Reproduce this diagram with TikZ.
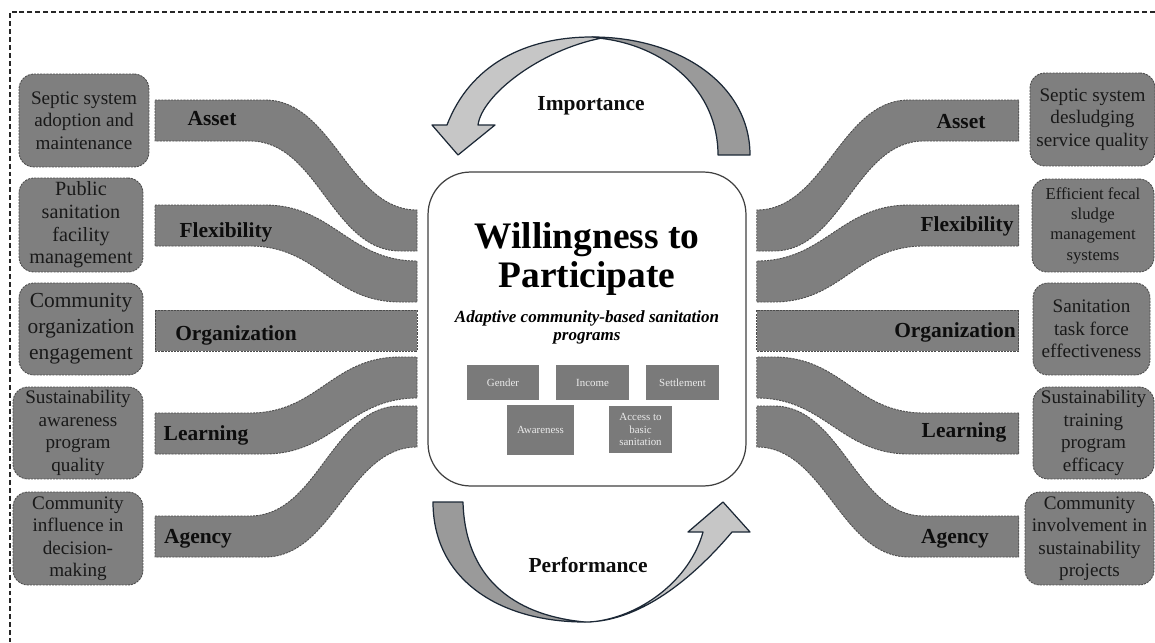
\documentclass[tikz,border=0pt]{standalone}
\usepackage{fontspec}
\setmainfont{Liberation Serif}
\usepackage{tikz}

\definecolor{bandgray}{HTML}{7F7F7F}
\definecolor{chipgray}{HTML}{7A7A7A}
\definecolor{arrowdark}{HTML}{9A9A9A}
\definecolor{arrowlight}{HTML}{C6C6C6}
\definecolor{navy}{HTML}{1C2836}

\newcommand{\bands}{%
	\draw[band] (155,100) -- (265,100) .. controls (333,100) and (349,210) .. (417,210) -- (417,251) -- (400,251) .. controls (332,251) and (318,141) .. (250,141) -- (155,141) -- cycle;
	\draw[band] (155,205) -- (265,205) .. controls (333,205) and (349,261) .. (417,261) -- (417,302) -- (400,302) .. controls (332,302) and (318,246) .. (250,246) -- (155,246) -- cycle;
	\draw[band] (155,310) rectangle (417,351);
	\draw[band] (155,413) -- (250,413) .. controls (318,413) and (332,357) .. (400,357) -- (417,357) -- (417,398) .. controls (349,398) and (333,454) .. (265,454) -- (155,454) -- cycle;
	\draw[band] (155,516) -- (250,516) .. controls (318,516) and (332,406) .. (400,406) -- (417,406) -- (417,447) .. controls (349,447) and (333,557) .. (265,557) -- (155,557) -- cycle;
}

\begin{document}
\begin{tikzpicture}[x=0.02cm, y=-0.02cm,
	band/.style={fill=bandgray, draw=black!70, line width=0.5pt, dash pattern=on 1.2pt off 0.6pt},
	factor/.style={band, rounded corners=0.3cm, align=center, inner sep=0pt, text=black!90, font=\fontsize{10.9}{12.8}\selectfont},
	tag/.style={anchor=base, text=black!95, font=\fontsize{12.2}{14}\selectfont\bfseries},
	chip/.style={fill=chipgray, align=center, inner sep=0pt, text=white!92!black, font=\fontsize{6.2}{7.1}\selectfont},
	turn/.style={draw=navy, line width=0.7pt, line join=round}]
	\useasboundingbox (0,0) rectangle (1155,642);
	\draw[black!85, line width=0.6pt, dash pattern=on 2.8pt off 1.7pt] (1155,12) -- (10,12) -- (10,642);

	% importance arrow
	\draw[turn, fill=arrowdark] (592,37) .. controls (680,37) and (750,85) .. (750,155) -- (718,155) .. controls (718,90) and (665,45) .. (598,38) -- cycle;
	\draw[turn, fill=arrowlight] (447,125) .. controls (470,65) and (525,37) .. (592,37) -- (602,38) .. controls (540,50) and (482,95) .. (478,125) -- (495,125) -- (458,155) -- (432,125) -- cycle;
	\node[tag] (imp) at (591,111) {Importance};

	% performance arrow
	\draw[turn, fill=arrowdark] (433,502) -- (463,502) .. controls (465,575) and (510,615) .. (585,622) .. controls (500,622) and (433,580) .. (433,502) -- cycle;
	\draw[turn, fill=arrowlight] (585,622) .. controls (645,622) and (700,570) .. (732,532) -- (750,532) -- (723,502) -- (688,532) -- (703,532) .. controls (690,580) and (640,618) .. (590,622) -- cycle;
	\node[tag] (perf) at (588,572) {Performance};

	\bands
	\begin{scope}[xshift=23.48cm, xscale=-1]
		\bands
	\end{scope}

	\node[tag] (asset1) at (212,125) {Asset};
	\node[tag] (flex1) at (226,237) {Flexibility};
	\node[tag] (org1) at (236,340) {Organization};
	\node[tag] (learn1) at (206,440) {Learning};
	\node[tag] (agency1) at (198,543) {Agency};
	\node[tag] (asset2) at (961,128) {Asset};
	\node[tag] (flex2) at (967,231) {Flexibility};
	\node[tag] (org2) at (955,337) {Organization};
	\node[tag] (learn2) at (964,437) {Learning};
	\node[tag] (agency2) at (955,543) {Agency};

	\node[factor, minimum width=2.6cm, minimum height=1.86cm] (septic) at (84,120.5) {Septic system\\adoption and\\maintenance};
	\node[factor, minimum width=2.48cm, minimum height=1.88cm, font=\fontsize{11.5}{12.9}\selectfont] (public) at (81,225) {Public\\sanitation\\facility\\management};
	\node[factor, minimum width=2.48cm, minimum height=1.84cm, font=\fontsize{12.2}{14.7}\selectfont] (engage) at (81,329) {Community\\organization\\engagement};
	\node[factor, minimum width=2.6cm, minimum height=1.84cm] (awareness) at (78,433) {Sustainability\\awareness\\program\\quality};
	\node[factor, minimum width=2.6cm, minimum height=1.86cm] (influence) at (78,538.5) {Community\\influence in\\decision-\\making};

	\node[factor, minimum width=2.5cm, minimum height=1.86cm] (desludge) at (1092.5,119.5) {Septic system\\desludging\\service quality};
	\node[factor, minimum width=2.44cm, minimum height=1.86cm, font=\fontsize{9.5}{11.6}\selectfont] (sludge) at (1093,225.5) {Efficient fecal\\sludge\\management\\systems};
	\node[factor, minimum width=2.34cm, minimum height=1.84cm] (taskforce) at (1091.5,329) {Sanitation\\task force\\effectiveness};
	\node[factor, minimum width=2.42cm, minimum height=1.84cm] (training) at (1093.5,433) {Sustainability\\training\\program\\efficacy};
	\node[factor, minimum width=2.58cm, minimum height=1.86cm] (involve) at (1089.5,538.5) {Community\\involvement in\\sustainability\\projects};

	\node[draw=black!75, line width=0.7pt, fill=white, rounded corners=0.85cm, minimum width=6.36cm, minimum height=6.28cm] (wtp) at (587,329) {};
	\node[align=center, font=\fontsize{21.3}{22}\selectfont\bfseries] (title) at (587,259) {Willingness to\\Participate};
	\node[align=center, font=\fontsize{9.7}{10.3}\selectfont\bfseries\itshape] (aim) at (587,327) {Adaptive community-based sanitation\\programs};

	\node[chip, minimum width=1.44cm, minimum height=0.7cm] (gender) at (503,382.5) {Gender};
	\node[chip, minimum width=1.46cm, minimum height=0.7cm] (income) at (592.5,382.5) {Income};
	\node[chip, minimum width=1.46cm, minimum height=0.7cm] (settle) at (682.5,382.5) {Settlement};
	\node[chip, minimum width=1.34cm, minimum height=1.0cm] (aware) at (540.5,430) {Awareness};
	\node[chip, minimum width=1.26cm, minimum height=0.94cm] (access) at (640.5,429.5) {Access to\\basic\\sanitation};
\end{tikzpicture}
\end{document}
